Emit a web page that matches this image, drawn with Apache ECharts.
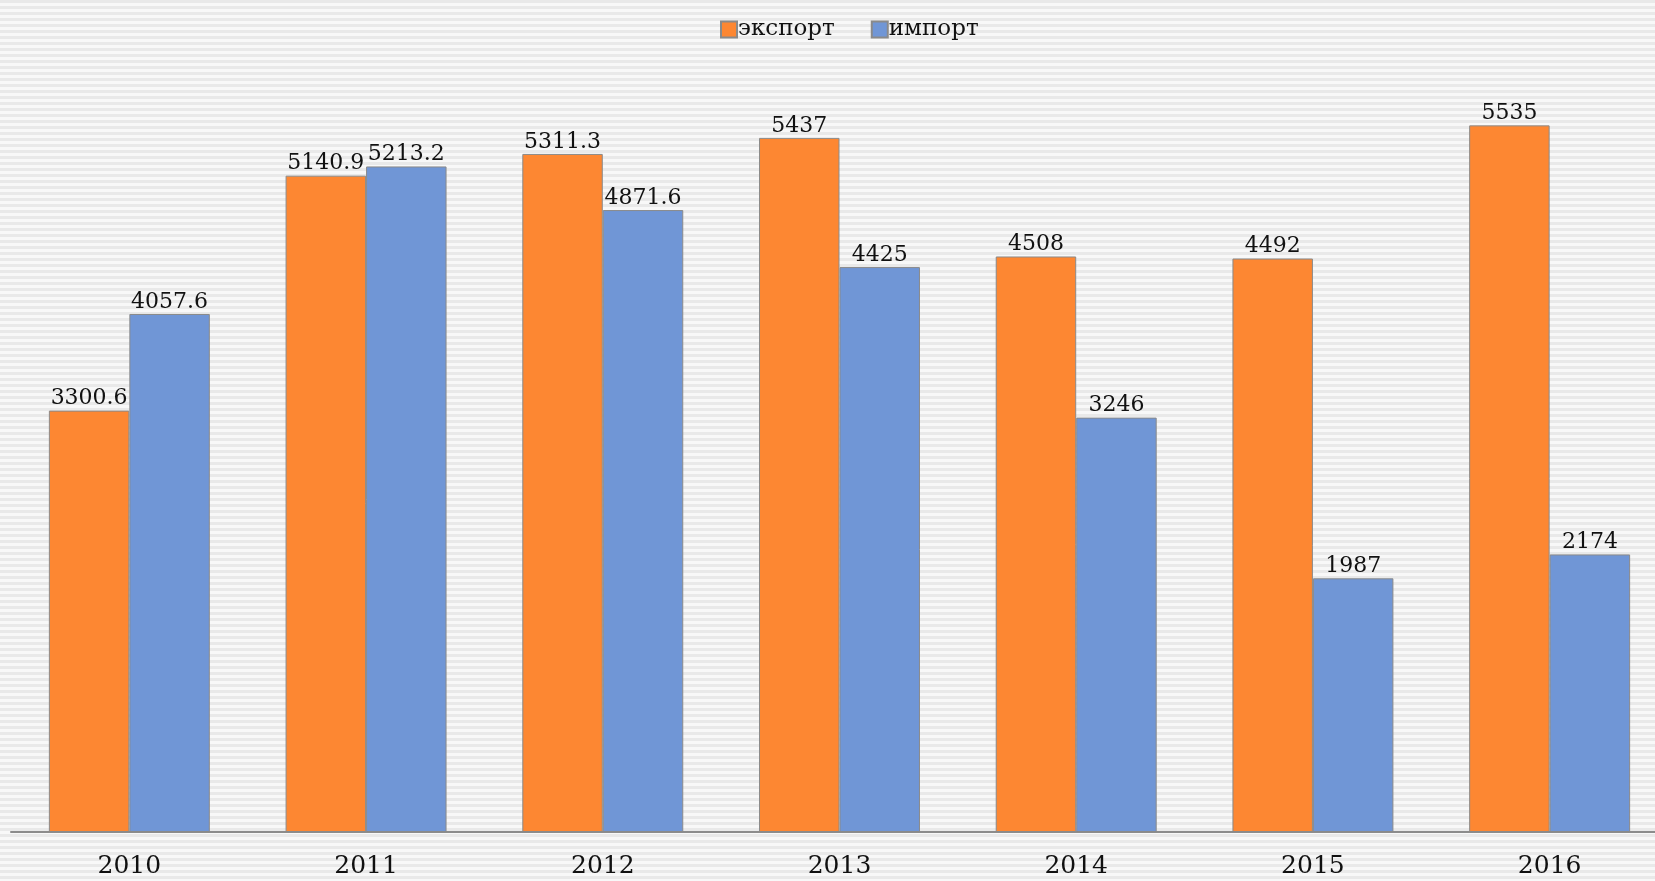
<!DOCTYPE html>
<html>
<head>
<meta charset="utf-8">
<script src="https://cdn.jsdelivr.net/npm/echarts@6/dist/echarts.min.js"></script>
<style>
  html, body {
    margin: 0;
    padding: 0;
    width: 1655px;
    height: 881px;
    overflow: hidden;
    background: repeating-linear-gradient(#e9e9e9 0 3px, #f8f8f8 3px 6px);
  }
  #chart {
    width: 1690px;
    height: 881px;
  }
</style>
</head>
<body>
<div id="chart"></div>
<script>
// годы
const years = ["2010", "2011", "2012", "2013", "2014", "2015", "2016"];
// экспорт
const exportValues = [3300.6, 5140.9, 5311.3, 5437, 4508, 4492, 5535];
// импорт
const importValues = [4057.6, 5213.2, 4871.6, 4425, 3246, 1987, 2174];
const seriesNames = ["экспорт", "импорт"];

const serif = '"DejaVu Serif", "Liberation Serif", serif';

const chart = echarts.init(document.getElementById("chart"));

function barSeries(name, data, color) {
  return {
    name: name,
    type: "bar",
    data: data,
    barGap: "0%",
    barCategoryGap: "32%",
    itemStyle: {
      color: color,
      borderColor: "#8a8a8a",
      borderWidth: 1,
    },
    label: {
      show: true,
      position: "top",
      distance: 1,
      color: "#111",
      fontFamily: serif,
      fontSize: 22,
    },
  };
}

chart.setOption({
  animation: false,
  backgroundColor: "transparent",
  legend: {
    data: seriesNames,
    top: 13,
    left: 715,
    itemWidth: 16,
    itemHeight: 16,
    itemGap: 36,
    icon: "rect",
    textStyle: {
      fontFamily: serif,
      fontSize: 23,
      color: "#111",
      padding: [0, 0, 0, -4],
    },
  },
  grid: {
    left: 11,
    width: 1657,
    top: 66,
    bottom: 49,
  },
  xAxis: {
    type: "category",
    data: years,
    axisLine: { lineStyle: { color: "#8c8c8c", width: 2 } },
    axisTick: { show: false },
    axisLabel: {
      margin: 22,
      fontFamily: serif,
      fontSize: 25,
      color: "#111",
    },
  },
  yAxis: {
    type: "value",
    min: 0,
    max: 6000,
    show: false,
    splitLine: { show: false },
  },
  series: [
    barSeries(seriesNames[0], exportValues, "#fd8732"),
    barSeries(seriesNames[1], importValues, "#7096d6"),
  ],
});
</script>
</body>
</html>
